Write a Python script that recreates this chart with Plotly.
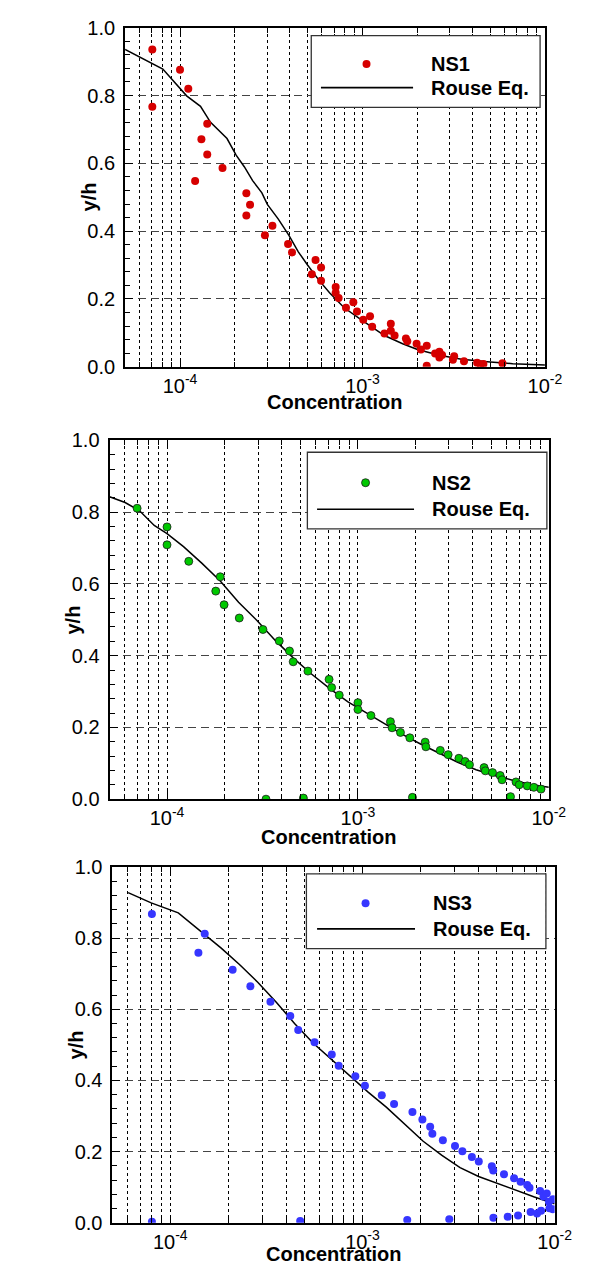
import math
import plotly.graph_objects as go

# ---------------- data ----------------
ns1_x = [7.05e-5, 7.05e-5, 1.0e-4, 1.11e-4, 1.41e-4, 1.31e-4, 1.41e-4, 1.21e-4, 1.71e-4, 2.31e-4,
         2.42e-4, 2.31e-4, 2.92e-4, 3.21e-4, 3.91e-4, 4.11e-4, 5.53e-4, 5.28e-4, 5.93e-4, 5.93e-4,
         7.13e-4, 7.13e-4, 7.4e-4, 8.12e-4, 8.91e-4, 9.33e-4, 1.01e-3, 1.10e-3, 1.13e-3, 1.32e-3,
         1.43e-3, 1.43e-3, 1.50e-3, 1.73e-3, 1.76e-3, 1.98e-3, 2.09e-3, 2.25e-3, 2.25e-3, 2.50e-3,
         2.64e-3, 2.64e-3, 2.73e-3, 3.13e-3, 3.18e-3, 3.60e-3, 4.25e-3, 4.44e-3, 4.60e-3, 5.85e-3]
ns1_y = [0.936, 0.767, 0.876, 0.820, 0.717, 0.671, 0.626, 0.548, 0.586, 0.512,
         0.478, 0.446, 0.388, 0.416, 0.362, 0.337, 0.315, 0.273, 0.293, 0.254,
         0.235, 0.218, 0.203, 0.174, 0.190, 0.163, 0.139, 0.149, 0.118, 0.098,
         0.127, 0.106, 0.092, 0.083, 0.075, 0.068, 0.051, 0.062, 0.003, 0.039,
         0.044, 0.027, 0.035, 0.021, 0.031, 0.016, 0.012, 0.007, 0.008, 0.010]
rouse1_x = [5e-5, 8.05e-5, 1.087e-4, 1.295e-4, 1.47e-4, 1.81e-4, 2.03e-4, 2.25e-4, 2.50e-4, 2.81e-4,
            3.01e-4, 3.45e-4, 3.96e-4, 4.45e-4, 5.0e-4, 5.74e-4, 6.6e-4, 7.94e-4, 1e-3, 1.32e-3,
            1.66e-3, 2.0e-3, 2.64e-3, 3.49e-3, 4.82e-3, 6.66e-3, 1e-2]
rouse1_y = [0.936, 0.878, 0.799, 0.768, 0.721, 0.673, 0.624, 0.590, 0.549, 0.513,
            0.479, 0.436, 0.387, 0.339, 0.300, 0.257, 0.218, 0.174, 0.136, 0.092,
            0.068, 0.051, 0.034, 0.022, 0.015, 0.009, 0.005]

ns2_x = [6.97e-5, 1e-4, 1e-4, 1.30e-4, 1.90e-4, 1.80e-4, 1.99e-4, 2.39e-4, 3.18e-4, 3.30e-4,
         3.87e-4, 4.38e-4, 4.58e-4, 5.18e-4, 5.47e-4, 7.06e-4, 7.28e-4, 7.98e-4, 1.0e-3, 1.0e-3,
         1.17e-3, 1.48e-3, 1.51e-3, 1.67e-3, 1.87e-3, 1.93e-3, 2.25e-3, 2.27e-3, 2.70e-3, 2.97e-3,
         3.38e-3, 3.64e-3, 3.84e-3, 4.58e-3, 4.65e-3, 5.07e-3, 5.56e-3, 5.69e-3, 6.30e-3, 6.73e-3,
         7.0e-3, 7.71e-3, 8.35e-3, 9.1e-3]
ns2_y = [0.811, 0.759, 0.709, 0.663, 0.620, 0.580, 0.542, 0.505, 0.473, 0.000,
         0.441, 0.413, 0.383, 0.003, 0.357, 0.334, 0.311, 0.290, 0.269, 0.250,
         0.233, 0.216, 0.199, 0.186, 0.171, 0.005, 0.159, 0.146, 0.136, 0.124,
         0.114, 0.105, 0.096, 0.088, 0.079, 0.074, 0.066, 0.054, 0.007, 0.048,
         0.040, 0.037, 0.033, 0.028]
rouse2_x = [5e-5, 6.03e-5, 7.18e-5, 8.57e-5, 1e-4, 1.22e-4, 1.52e-4, 1.90e-4, 2.37e-4, 2.95e-4,
            3.67e-4, 4.58e-4, 5.71e-4, 7.12e-4, 8.87e-4, 1.11e-3, 1.38e-3, 1.72e-3, 2.14e-3, 2.67e-3,
            3.33e-3, 4.16e-3, 5.19e-3, 6.46e-3, 8.05e-3, 1e-2]
rouse2_y = [0.843, 0.827, 0.804, 0.763, 0.740, 0.704, 0.658, 0.608, 0.549, 0.499,
            0.444, 0.394, 0.349, 0.308, 0.271, 0.240, 0.208, 0.180, 0.153, 0.128,
            0.103, 0.082, 0.066, 0.053, 0.041, 0.033]

ns3_x = [8.02e-5, 8.02e-5, 1.51e-4, 1.40e-4, 2.11e-4, 2.61e-4, 3.32e-4, 4.21e-4, 4.63e-4, 4.74e-4,
         5.63e-4, 6.92e-4, 7.52e-4, 9.18e-4, 1.03e-3, 1.26e-3, 1.46e-3, 1.71e-3, 1.82e-3, 2.05e-3,
         2.25e-3, 2.31e-3, 2.62e-3, 2.83e-3, 3.03e-3, 3.31e-3, 3.71e-3, 4.03e-3, 4.71e-3, 4.79e-3,
         4.80e-3, 5.45e-3, 5.70e-3, 6.15e-3, 6.45e-3, 6.65e-3, 7.20e-3, 7.40e-3, 7.50e-3, 8.10e-3,
         8.40e-3, 8.50e-3, 8.75e-3, 9.10e-3, 9.35e-3, 9.40e-3, 9.80e-3, 9.80e-3]
ns3_y = [0.868, 0.003, 0.812, 0.759, 0.711, 0.665, 0.621, 0.581, 0.542, 0.005,
         0.507, 0.473, 0.441, 0.412, 0.385, 0.358, 0.334, 0.008, 0.311, 0.290,
         0.270, 0.250, 0.232, 0.010, 0.216, 0.201, 0.185, 0.172, 0.159, 0.147,
         0.014, 0.136, 0.017, 0.125, 0.020, 0.115, 0.106, 0.098, 0.030, 0.026,
         0.089, 0.034, 0.074, 0.082, 0.059, 0.041, 0.066, 0.038]
rouse3_x = [6.03e-5, 7.95e-5, 1.10e-4, 1.41e-4, 1.84e-4, 2.29e-4, 2.85e-4, 3.56e-4, 4.43e-4, 5.53e-4,
            6.89e-4, 8.59e-4, 1.07e-3, 1.33e-3, 1.66e-3, 2.07e-3, 2.58e-3, 3.22e-3, 4.02e-3, 5.01e-3,
            6.24e-3, 7.78e-3, 1e-2]
rouse3_y = [0.928, 0.899, 0.871, 0.823, 0.772, 0.726, 0.676, 0.620, 0.560, 0.505,
            0.459, 0.413, 0.367, 0.325, 0.277, 0.229, 0.190, 0.155, 0.130, 0.111,
            0.091, 0.073, 0.053]

series_names = ["NS1", "NS2", "NS3"]
line_name = "Rouse Eq."
x_title = "Concentration"
y_title = "y/h"
major_x = [1e-4, 1e-3, 1e-2]
major_x_text = ["10<sup>-4</sup>", "10<sup>-3</sup>", "10<sup>-2</sup>"]
minor_x = [6e-5, 7e-5, 8e-5, 9e-5,
           2e-4, 3e-4, 4e-4, 5e-4, 6e-4, 7e-4, 8e-4, 9e-4,
           2e-3, 3e-3, 4e-3, 5e-3, 6e-3, 7e-3, 8e-3, 9e-3]

# ---------------- layout helpers ----------------
W, H = 593, 1275
FONT = "Liberation Sans, Arial, sans-serif"
FS = 20


def fx(px):
    return px / W


def fy(py):
    return 1 - py / H


panels = [
    dict(x=ns1_x, y=ns1_y, rx=rouse1_x, ry=rouse1_y, color="#d60000", outline=None, size=8,
         box=(129, 562, 17, 362), leg=(321, 557, 25, 98), mk=(378, 54), ln=(331, 426, 78),
         txt=442, ytitle_x=92, xtitle_y=398),
    dict(x=ns2_x, y=ns2_y, rx=rouse2_x, ry=rouse2_y, color="#00c800", outline="#1a1a1a", size=8,
         box=(113, 566, 437, 802), leg=(317, 564, 449, 527), mk=(377, 480), ln=(327, 427, 507),
         txt=443, ytitle_x=75, xtitle_y=840),
    dict(x=ns3_x, y=ns3_y, rx=rouse3_x, ry=rouse3_y, color="#3636ff", outline=None, size=8,
         box=(116, 572, 871, 1233), leg=(316, 563, 878, 954), mk=(377, 908), ln=(327, 428, 934),
         txt=444, ytitle_x=78, xtitle_y=1265),
]

fig = go.Figure()
shapes = []
annotations = []

for i, p in enumerate(panels):
    k = "" if i == 0 else str(i + 1)
    xa, ya = "x" + k, "y" + k
    fig.add_trace(go.Scatter(x=p["rx"], y=p["ry"], mode="lines", name=line_name,
                             line=dict(color="black", width=1.5), xaxis=xa, yaxis=ya,
                             showlegend=False))
    mline = dict(color=p["outline"], width=0.8) if p["outline"] else dict(width=0)
    fig.add_trace(go.Scatter(x=p["x"], y=p["y"], mode="markers", name=series_names[i],
                             marker=dict(color=p["color"], size=p["size"], line=mline),
                             xaxis=xa, yaxis=ya, showlegend=False))

    l, r, t, b = p["box"]
    fig.update_layout(**{
        "xaxis" + k: dict(
            type="log", range=[math.log10(5e-5), -1.99999], domain=[fx(l), fx(r)], anchor=ya,
            tickmode="array", tickvals=major_x, ticktext=major_x_text,
            ticks="inside", ticklen=8, tickwidth=1, tickcolor="black",
            showline=True, linewidth=2, linecolor="black", mirror="ticks",
            showgrid=True, gridcolor="black", gridwidth=1, griddash="3px,3px",
            minor=dict(tickmode="array", tickvals=minor_x, ticks="inside", ticklen=5,
                       tickcolor="black", showgrid=True, gridcolor="black", gridwidth=1,
                       griddash="3px,3px"),
            tickfont=dict(family=FONT, size=FS, color="black"),
            zeroline=False, fixedrange=True,
        ),
        "yaxis" + k: dict(
            range=[0, 1], domain=[fy(b), fy(t)], anchor=xa,
            tick0=0, dtick=0.2, tickformat=".1f",
            ticks="inside", ticklen=8, tickwidth=1, tickcolor="black",
            showline=True, linewidth=2, linecolor="black", mirror=True,
            showgrid=True, gridcolor="#444444", gridwidth=1, griddash="8px,5px",
            minor=dict(dtick=0.04, ticks="inside", ticklen=5, tickcolor="black", showgrid=False),
            tickfont=dict(family=FONT, size=FS, color="black"),
            ticklabelstandoff=4,
            zeroline=False, fixedrange=True,
        ),
    })

    # legend box (custom)
    ll, lr, lt, lb = p["leg"]
    shapes.append(dict(type="rect", xref="paper", yref="paper", x0=fx(ll), x1=fx(lr),
                       y0=fy(lb), y1=fy(lt), fillcolor="white",
                       line=dict(color="#333333", width=1.3), layer="above"))
    mx, my = p["mk"]
    r_ = p["size"] / 2
    shapes.append(dict(type="circle", xref="paper", yref="paper", xsizemode="pixel",
                       ysizemode="pixel", xanchor=fx(mx), yanchor=fy(my),
                       x0=-r_, x1=r_, y0=-r_, y1=r_, fillcolor=p["color"],
                       line=dict(color=p["outline"] or p["color"], width=0.8 if p["outline"] else 0),
                       layer="above"))
    lx0, lx1, lyy = p["ln"]
    shapes.append(dict(type="line", xref="paper", yref="paper", x0=fx(lx0), x1=fx(lx1),
                       y0=fy(lyy), y1=fy(lyy), line=dict(color="black", width=1.6), layer="above"))
    annotations.append(dict(text=series_names[i], xref="paper", yref="paper", x=fx(p["txt"]),
                            y=fy(my), xanchor="left", yanchor="middle", showarrow=False,
                            font=dict(family=FONT, size=FS, color="black", weight="bold")))
    annotations.append(dict(text=line_name, xref="paper", yref="paper", x=fx(p["txt"]),
                            y=fy(lyy), xanchor="left", yanchor="middle", showarrow=False,
                            font=dict(family=FONT, size=FS, color="black", weight="bold")))
    # axis titles
    annotations.append(dict(text=x_title, xref="paper", yref="paper", x=fx((l + r) / 2),
                            y=fy(p["xtitle_y"]), xanchor="center", yanchor="middle",
                            showarrow=False,
                            font=dict(family=FONT, size=FS, color="black", weight="bold")))
    annotations.append(dict(text=y_title, xref="paper", yref="paper", x=fx(p["ytitle_x"]),
                            y=fy((t + b) / 2), xanchor="center", yanchor="middle",
                            textangle=-90, showarrow=False,
                            font=dict(family=FONT, size=FS, color="black", weight="bold")))

fig.update_layout(
    width=W, height=H, margin=dict(l=0, r=0, t=0, b=0),
    paper_bgcolor="white", plot_bgcolor="white",
    showlegend=False, shapes=shapes, annotations=annotations,
    font=dict(family=FONT, size=FS, color="black"),
)

fig.write_html("out.html", config={"displayModeBar": False},
               post_script="document.body.style.margin='0px';")
